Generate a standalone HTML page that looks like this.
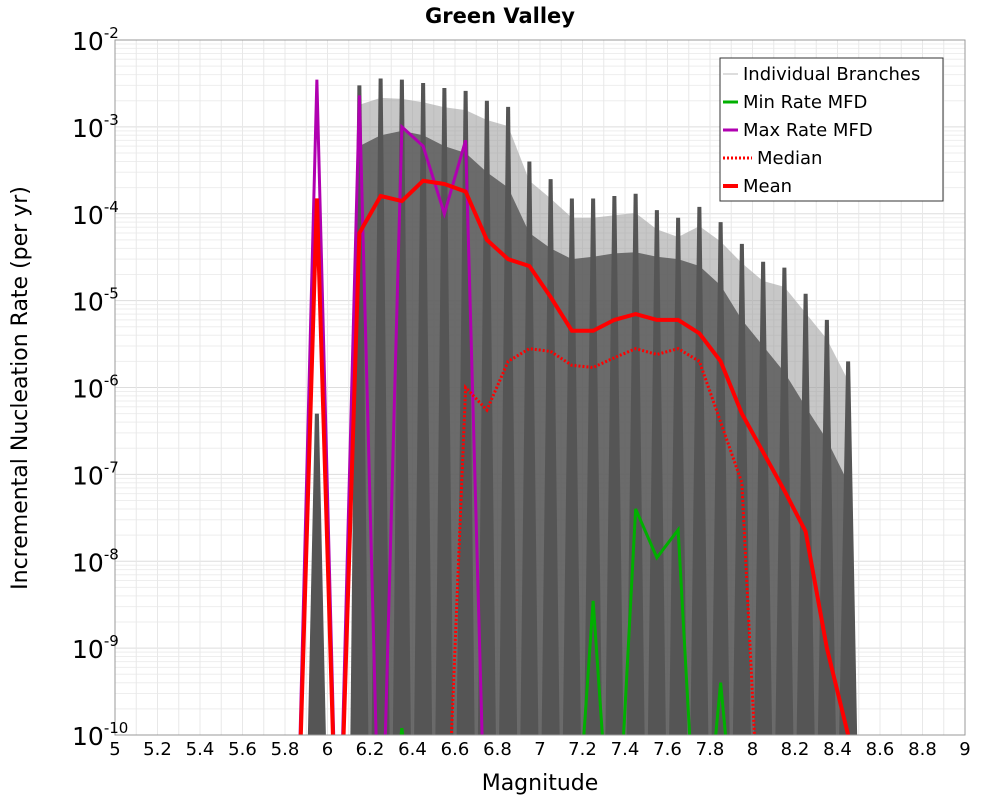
<!DOCTYPE html>
<html><head><meta charset="utf-8"><style>
html,body{margin:0;padding:0;background:#fff;overflow:hidden;width:1000px;height:800px}
svg{display:block}
</style></head><body>
<svg id="chart" width="1000" height="800" xmlns="http://www.w3.org/2000/svg" font-family="DejaVu Sans, Liberation Sans, sans-serif">
<defs><clipPath id="clip"><rect x="115" y="40" width="850" height="695"/></clipPath></defs>
<rect x="115" y="40" width="850" height="695" fill="#fff"/>
<g id="grid"></g>
<g id="series" clip-path="url(#clip)"></g>
<rect x="115" y="40" width="850" height="695" fill="none" stroke="#999"/>
<g id="axes"></g>
<text x="500" y="23" text-anchor="middle" font-size="21" font-weight="bold">Green Valley</text>
<text x="540" y="790" text-anchor="middle" font-size="22">Magnitude</text>
<text transform="translate(27,388) rotate(-90)" text-anchor="middle" font-size="22">Incremental Nucleation Rate (per yr)</text>
<g>
<rect x="720" y="58" width="223" height="143" fill="#fff" stroke="#333"/>
<g><line x1="723" y1="74" x2="738" y2="74" stroke="#bbb"/><text x="743" y="80" font-size="18">Individual Branches</text></g>
<g><line x1="723" y1="102" x2="738" y2="102" stroke="#00b000" stroke-width="3"/><text x="743" y="108" font-size="18">Min Rate MFD</text></g>
<g><line x1="723" y1="130" x2="738" y2="130" stroke="#b000b0" stroke-width="3"/><text x="743" y="136" font-size="18">Max Rate MFD</text></g>
<g><line x1="723" y1="158" x2="752" y2="158" stroke="#f00" stroke-width="3" stroke-dasharray="2,2"/><text x="757" y="164" font-size="18">Median</text></g>
<g><line x1="723" y1="186" x2="738" y2="186" stroke="#f00" stroke-width="4"/><text x="743" y="192" font-size="18">Mean</text></g>
</g>
</svg>
<script>
const meanMags=[5.85,5.95,6.05,6.15,6.25,6.35,6.45,6.55,6.65,6.75,6.85,6.95,7.05,7.15,7.25,7.35,7.45,7.55,7.65,7.75,7.85,7.95,8.05,8.15,8.25,8.35,8.45];
const meanVals=[0,1.5e-4,0,6e-5,1.6e-4,1.4e-4,2.4e-4,2.2e-4,1.8e-4,5e-5,3e-5,2.5e-5,1.1e-5,4.5e-6,4.5e-6,6e-6,7e-6,6e-6,6e-6,4.2e-6,2e-6,5e-7,1.8e-7,6.5e-8,2.2e-8,1e-9,1e-10];
const maxMags=[5.85,5.95,6.05,6.15,6.25,6.35,6.45,6.55,6.65,6.75];
const maxVals=[0,3.5e-3,0,2.3e-3,0,1e-3,6e-4,1e-4,7e-4,0];
const minMags=[6.25,6.35,6.45,7.15,7.25,7.35,7.45,7.55,7.65,7.75,7.85,7.95];
const minVals=[0,1.2e-10,0,0,3.5e-9,0,4e-8,1.1e-8,2.3e-8,0,4e-10,0];
const medMags=[6.55,6.65,6.75,6.85,6.95,7.05,7.15,7.25,7.35,7.45,7.55,7.65,7.75,7.85,7.95,8.05];
const medVals=[0,1e-6,5.5e-7,2e-6,2.8e-6,2.6e-6,1.8e-6,1.7e-6,2.2e-6,2.8e-6,2.4e-6,2.8e-6,2e-6,4e-7,8e-8,0];
const branchMags=[5.95,6.15,6.25,6.35,6.45,6.55,6.65,6.75,6.85,6.95,7.05,7.15,7.25,7.35,7.45,7.55,7.65,7.75,7.85,7.95,8.05,8.15,8.25,8.35,8.45];
const branchTop=[5e-7,3e-3,3.6e-3,3.5e-3,3.2e-3,2.8e-3,2.6e-3,2e-3,1.7e-3,4e-4,2.5e-4,1.5e-4,1.5e-4,1.6e-4,1.7e-4,1.1e-4,9e-5,1.2e-4,8e-5,4.5e-5,2.8e-5,2.4e-5,1.2e-5,6e-6,2e-6];
const bodyTop=[1e-9,6e-4,8e-4,9e-4,8e-4,6e-4,5e-4,3e-4,2e-4,6e-5,4e-5,3e-5,3.2e-5,3.5e-5,3.6e-5,3.2e-5,3e-5,2.5e-5,1.5e-5,6e-6,3e-6,1.5e-6,6e-7,2.5e-7,8e-8];
const xTicks=[5,5.2,5.4,5.6,5.8,6,6.2,6.4,6.6,6.8,7,7.2,7.4,7.6,7.8,8,8.2,8.4,8.6,8.8,9];
const yExps=[-2,-3,-4,-5,-6,-7,-8,-9,-10];
const NS="http://www.w3.org/2000/svg";
const X=m=>115+(m-5)*212.5;
const Y=v=>{if(v<=0)v=1e-12;return 40+(-2-Math.log10(v))*86.875;};
function mk(t,a,p){const e=document.createElementNS(NS,t);for(const k in a)e.setAttribute(k,a[k]);p.appendChild(e);return e;}
const grid=document.getElementById('grid'),ser=document.getElementById('series'),axes=document.getElementById('axes');
for(let e=-10;e<-2;e++){for(let k=1;k<10;k++){const y=Y(k*Math.pow(10,e));
const l=mk('line',{x1:115,x2:965,y1:y,y2:y,stroke:k==1?'#ddd':'#eee'},grid);

}}
for(let i=0;i<=40;i++){const x=X(5+i*0.1);
const l=mk('line',{x1:x,x2:x,y1:40,y2:735,stroke:'#e8e8e8'},grid);

}
// light halo envelope
let d='M'+X(branchMags[1]-0.03)+','+Y(0);
for(let i=1;i<branchMags.length;i++)d+=' L'+X(branchMags[i])+','+Y(branchTop[i]*0.6);
d+=' L'+X(8.48)+','+Y(0)+' Z';
const halo=mk('path',{d:d,fill:'#999','fill-opacity':0.55},ser);


// dense body
let d2='M'+X(branchMags[1]-0.03)+','+Y(0);
for(let i=1;i<branchMags.length;i++)d2+=' L'+X(branchMags[i])+','+Y(bodyTop[i]);
d2+=' L'+X(8.48)+','+Y(0)+' Z';
const body=mk('path',{d:d2,fill:'#5a5a5a','fill-opacity':0.85},ser);


branchMags.forEach((m,i)=>{const x=X(m),t=Y(branchTop[i]);
const p=mk('path',{d:`M${x-9},735 L${x-2},${t} L${x+2},${t} L${x+9},735 Z`,fill:'#555'},ser);

});
function line(mags,vals,attrs,name){const pts=mags.map((m,i)=>X(m)+','+Y(vals[i])).join(' ');
const e=mk('polyline',Object.assign({points:pts,fill:'none'},attrs),ser);

}
line(minMags,minVals,{stroke:'#00b000','stroke-width':3},'min-rate-line');
line(maxMags,maxVals,{stroke:'#b000b0','stroke-width':3},'max-rate-line');
line(medMags,medVals,{stroke:'#f00','stroke-width':3,'stroke-dasharray':'2,2'},'median-line');
line(meanMags,meanVals,{stroke:'#f00','stroke-width':4},'mean-line');
xTicks.forEach(m=>{const t=mk('text',{x:X(m),y:755,'text-anchor':'middle','font-size':18},axes);t.textContent=String(m);

});
yExps.forEach(e=>{const y=Y(Math.pow(10,e));const t=mk('text',{x:72,y:y+10,'font-size':25},axes);


t.appendChild(document.createTextNode('10'));
const s=mk('tspan',{dy:-12,'font-size':15},t);s.textContent=String(e);});
</script>
</body></html>
